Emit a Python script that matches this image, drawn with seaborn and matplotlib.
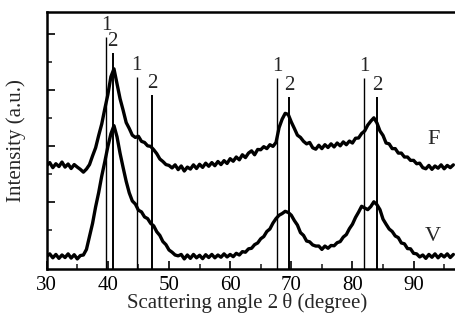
import numpy as np
import pandas as pd
import matplotlib
matplotlib.use("Agg")
import matplotlib.pyplot as plt
import seaborn as sns
from matplotlib.ticker import FixedLocator, MultipleLocator

start_angle = 30.0
step_angle = 0.5

f_intensity = [
    3.30, 3.40, 3.22, 3.36, 3.26, 3.42, 3.24, 3.35, 3.19, 3.33, 3.24, 3.16,
    3.06, 3.17, 3.33, 3.64, 3.93, 4.37, 4.78, 5.32, 5.83, 6.47, 6.75, 6.22,
    5.68, 5.27, 4.83, 4.62, 4.38, 4.30, 4.34, 4.16, 4.12, 4.00, 3.98, 3.86,
    3.72, 3.53, 3.44, 3.33, 3.30, 3.21, 3.32, 3.15, 3.28, 3.10, 3.24, 3.17,
    3.32, 3.19, 3.34, 3.23, 3.38, 3.27, 3.40, 3.29, 3.44, 3.33, 3.47, 3.37,
    3.54, 3.45, 3.60, 3.50, 3.68, 3.58, 3.74, 3.82, 3.68, 3.87, 3.86, 3.97,
    3.90, 4.04, 3.98, 4.12, 4.65, 4.95, 5.16, 5.12, 4.85, 4.62, 4.38, 4.30,
    4.16, 4.07, 4.12, 3.93, 3.88, 4.02, 3.90, 4.04, 3.94, 4.07, 3.96, 4.10,
    4.00, 4.14, 4.04, 4.17, 4.10, 4.27, 4.28, 4.44, 4.53, 4.74, 4.88, 5.00,
    4.82, 4.53, 4.37, 4.10, 4.07, 3.90, 3.90, 3.74, 3.74, 3.60, 3.60, 3.48,
    3.48, 3.36, 3.38, 3.22, 3.18, 3.30, 3.16, 3.28, 3.20, 3.32, 3.18, 3.30,
    3.22, 3.32,
]

v_intensity = [
    0.05, 0.14, 0.00, 0.12, -0.02, 0.10, 0.01, 0.14, -0.01, 0.11, -0.04, 0.08,
    0.10, 0.30, 0.77, 1.23, 1.82, 2.33, 2.92, 3.43, 3.97, 4.43, 4.72, 4.32,
    3.73, 3.22, 2.73, 2.32, 2.03, 1.92, 1.70, 1.64, 1.46, 1.40, 1.23, 1.14,
    0.93, 0.80, 0.58, 0.47, 0.28, 0.20, 0.10, 0.07, 0.12, -0.04, 0.10, -0.02,
    0.12, 0.00, 0.09, -0.03, 0.11, 0.01, 0.12, 0.00, 0.10, 0.02, 0.14, 0.03,
    0.12, 0.04, 0.16, 0.10, 0.22, 0.20, 0.32, 0.34, 0.47, 0.53, 0.68, 0.76,
    0.94, 1.03, 1.24, 1.40, 1.52, 1.58, 1.66, 1.62, 1.52, 1.33, 1.17, 0.90,
    0.80, 0.60, 0.57, 0.46, 0.42, 0.42, 0.30, 0.42, 0.34, 0.44, 0.43, 0.54,
    0.58, 0.74, 0.83, 1.04, 1.20, 1.44, 1.63, 1.84, 1.78, 1.72, 1.83, 2.00,
    1.90, 1.72, 1.38, 1.20, 1.03, 0.94, 0.78, 0.72, 0.53, 0.50, 0.33, 0.32,
    0.16, 0.14, 0.03, 0.10, -0.02, 0.12, 0.02, 0.14, 0.00, 0.12, 0.03, 0.14,
    0.01, 0.12,
]

# reference line positions (2-theta), their top heights and labels
ref_pos = [39.7, 40.8, 44.7, 47.2, 67.7, 69.6, 81.9, 84.0]
ref_top = [7.89, 7.31, 6.46, 5.81, 6.42, 5.74, 6.42, 5.74]
ref_lab = ["1", "2", "1", "2", "1", "2", "1", "2"]

series_names = ["F", "V"]
series_label_pos = [(93.2, 4.24), (93.2, 0.76)]

xticks = [30, 40, 50, 60, 70, 80, 90]

# ---- build tidy frame ----
angle_f = start_angle + step_angle * np.arange(len(f_intensity))
angle_v = start_angle + step_angle * np.arange(len(v_intensity))
df = pd.concat([
    pd.DataFrame({"angle": angle_f, "intensity": f_intensity, "sample": "F"}),
    pd.DataFrame({"angle": angle_v, "intensity": v_intensity, "sample": "V"}),
])

sns.set_style("ticks")
plt.rcParams["font.family"] = ["Liberation Serif", "DejaVu Serif"]

fig = plt.figure(figsize=(4.56, 3.2), dpi=100)
ax_left = 46.7 / 456
ax_bottom = 51 / 320
ax_w = (460 - 46.7) / 456
ax_h = 257 / 320
ax = fig.add_axes([ax_left, ax_bottom, ax_w, ax_h])

sns.lineplot(data=df, x="angle", y="intensity", units="sample", estimator=None,
             color="black", linewidth=2.4, ax=ax, legend=False, sort=False)

ymin = -0.4
for pos, top, lab in zip(ref_pos, ref_top, ref_lab):
    lw = 1.0 if lab == "1" else 1.4
    ax.plot([pos, pos], [ymin, top], color="black", linewidth=lw,
            solid_capstyle="butt")
    ax.text(pos, top + 0.06, lab, ha="center", va="bottom", fontsize=15)

for name, (tx, ty) in zip(series_names, series_label_pos):
    ax.text(tx, ty, name, ha="center", va="center", fontsize=16)

ax.set_xlim(30, 30 + (460 - 46.7) / 6.115)
ax.set_ylim(ymin, 8.78)
ax.set_xticks(xticks)
ax.xaxis.set_minor_locator(MultipleLocator(5))
ax.set_yticks([2, 4, 6, 8])
ax.yaxis.set_minor_locator(FixedLocator([1, 3, 5, 7]))
ax.set_yticklabels([])
ax.tick_params(axis="both", which="major", direction="in", length=6,
               width=1.2, labelsize=15, pad=5, colors="black")
ax.tick_params(axis="both", which="minor", direction="in", length=3.5,
               width=1.2)
ax.tick_params(axis="y", which="both", left=True, right=False)
ax.tick_params(axis="x", which="both", top=False)

for side in ["left", "bottom", "top"]:
    ax.spines[side].set_linewidth(1.8)
    ax.spines[side].set_color("black")
ax.spines["right"].set_visible(False)

ax.set_xlabel("Scattering angle 2\u2009\u03b8 (degree)", fontsize=15)
ax.set_ylabel("Intensity (a.u.)", fontsize=15)
ax.xaxis.set_label_coords(0.484, -0.095)
ax.xaxis.label.set_va("top")
ax.yaxis.set_label_coords(-0.05, 0.5)

fig.savefig("out.png", dpi=100)
